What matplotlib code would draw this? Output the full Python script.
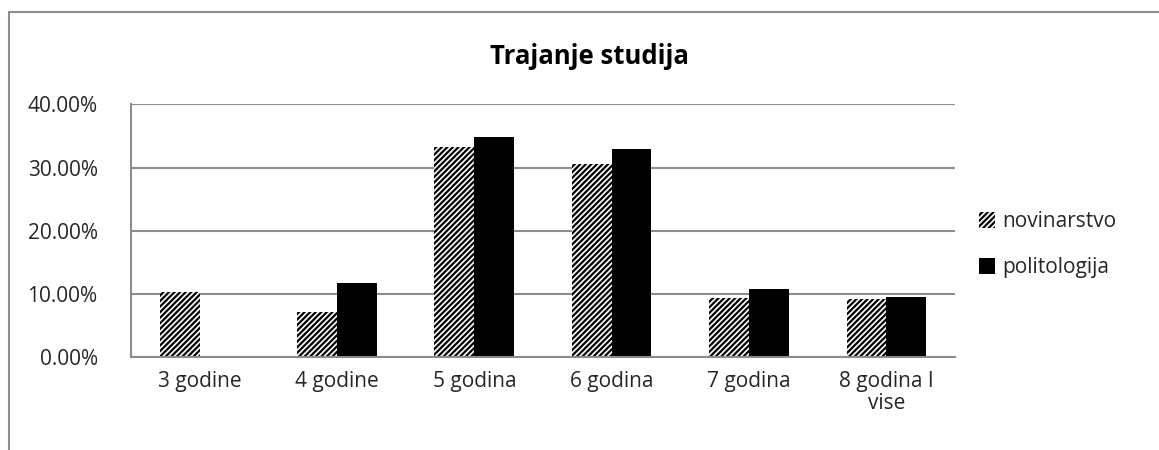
# bar chart: trajanje studija, novinarstvo vs politologija

import numpy as np
import matplotlib.pyplot as plt
from matplotlib.patches import Rectangle
from matplotlib.ticker import PercentFormatter

plt.rcParams['font.family'] = ['Open Sans', 'DejaVu Sans']
plt.rcParams['hatch.linewidth'] = 1.6

categories = ["3 godine", "4 godine", "5 godina", "6 godina", "7 godina", "8 godina I\nvise"]
novinarstvo = [10.3, 7.05, 33.3, 30.5, 9.3, 9.1]
politologija = [0.0, 11.7, 34.9, 32.9, 10.7, 9.5]

fig = plt.figure(figsize=(11.59, 4.5), dpi=100)
ax = fig.add_axes([0.113, 0.2073, 0.711, 0.5605])

# outer chart frame (right and bottom edges fall outside the image)
fig.patches.append(Rectangle((9 / 1159, -0.05), 1.1, 1.05 - 12 / 450,
                             transform=fig.transFigure, fill=False,
                             edgecolor='#8c8c8c', linewidth=1.5))

x = np.arange(len(categories))
w = 0.29
ax.bar(x - w / 2, novinarstvo, w, color='white', edgecolor='black', hatch='//////',
       linewidth=0, label='novinarstvo')
ax.bar(x + w / 2, politologija, w, color='black', label='politologija')

ax.set_xlim(-0.5, len(categories) - 0.5)
ax.set_ylim(0, 40)
ax.set_yticks([0, 10, 20, 30, 40])
ax.yaxis.set_major_formatter(PercentFormatter(decimals=2))
ax.yaxis.grid(True, color='#8c8c8c', linewidth=1.5)
ax.set_axisbelow(True)

ax.set_xticks(x)
ax.set_xticklabels(categories, linespacing=1.1)
ax.tick_params(axis='both', length=0, labelsize=15, colors='#262626')
ax.tick_params(axis='y', pad=24)
ax.tick_params(axis='x', pad=10)

for s in ['top', 'right']:
    ax.spines[s].set_visible(False)
for s in ['left', 'bottom']:
    ax.spines[s].set_color('#8c8c8c')
    ax.spines[s].set_linewidth(1.5)

fig.text(0.509, 0.875, "Trajanje studija", ha='center', va='center',
         fontsize=18.5, fontweight='bold', color='black')

leg = fig.legend(loc='center left', bbox_to_anchor=(0.845, 0.456), frameon=False,
                 fontsize=15, handlelength=0.75, handleheight=0.75, handletextpad=0.35,
                 labelspacing=1.2, borderpad=0, borderaxespad=0)
for t in leg.get_texts():
    t.set_color('#262626')

fig.savefig("out.png", dpi=100)
